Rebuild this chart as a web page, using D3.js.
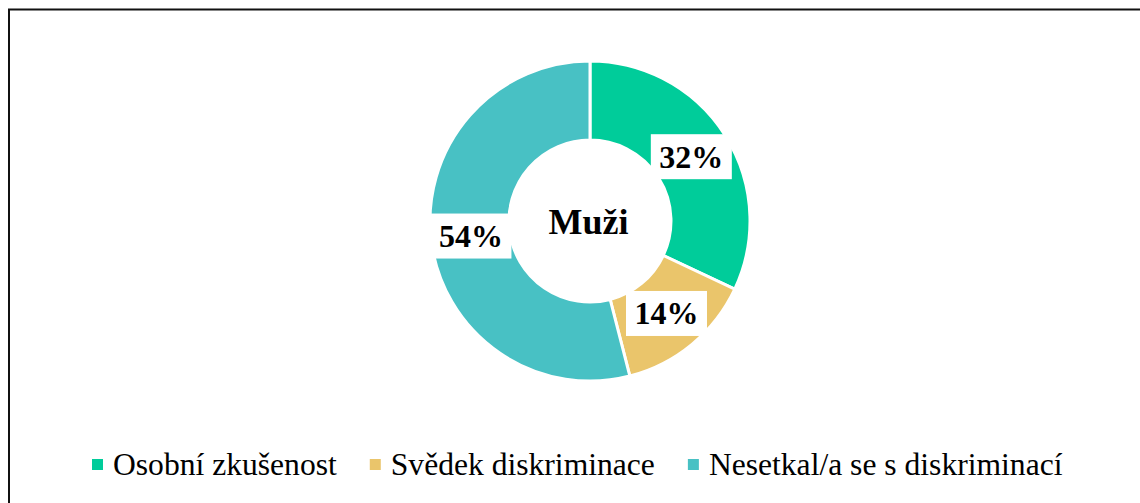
<!DOCTYPE html>
<html lang="cs">
<head>
    <meta charset="utf-8">
    <script src="https://d3js.org/d3.v7.min.js"></script>
    <style>
        body { margin: 0; background: white; }
        svg text { font-family: "Liberation Serif", "Times New Roman", serif; }
    </style>
</head>
<body>
    <div id="chart"></div>
    <script>
        // data
        const categories = ["Osobní zkušenost", "Svědek diskriminace", "Nesetkal/a se s diskriminací"];
        const values = [32, 14, 54];
        const colors = ["#00CC9A", "#EAC56B", "#48C1C4"];
        const centerLabel = "Muži";

        const W = 1140, H = 503;
        const cx = 590, cy = 221, outerR = 160, innerR = 81;

        const svg = d3.select("#chart").append("svg")
            .attr("width", W)
            .attr("height", H);

        // chart frame (runs off the right and bottom edge)
        svg.append("rect")
            .attr("x", 9).attr("y", 9.5)
            .attr("width", 1200).attr("height", 600)
            .attr("fill", "white")
            .attr("stroke", "#111")
            .attr("stroke-width", 2);

        const pie = d3.pie().sort(null).value(d => d);
        const arcs = pie(values);
        const arc = d3.arc().innerRadius(innerR).outerRadius(outerR);
        const labelArc = d3.arc().innerRadius(120).outerRadius(120);

        const g = svg.append("g").attr("transform", `translate(${cx},${cy})`);

        g.selectAll("path")
            .data(arcs)
            .join("path")
            .attr("d", arc)
            .attr("fill", (d, i) => colors[i])
            .attr("stroke", "white")
            .attr("stroke-width", 3);

        // data labels with white boxes
        const lab = g.selectAll("g.lab")
            .data(arcs)
            .join("g")
            .attr("class", "lab")
            .attr("transform", d => `translate(${labelArc.centroid(d)})`);

        lab.append("rect")
            .attr("x", -40.5).attr("y", -22.5)
            .attr("width", 81).attr("height", 45)
            .attr("fill", "white");

        lab.append("text")
            .attr("text-anchor", "middle")
            .attr("y", 11)
            .style("font-size", "32px")
            .style("font-weight", "bold")
            .text(d => d.data + "%");

        g.append("text")
            .attr("text-anchor", "middle")
            .attr("x", -1.5)
            .attr("y", 13)
            .style("font-size", "36px")
            .style("font-weight", "bold")
            .text(centerLabel);

        // legend
        const legend = svg.append("g").attr("transform", "translate(92,475)");
        let lx = 0;
        categories.forEach((c, i) => {
            legend.append("rect")
                .attr("x", lx).attr("y", -16)
                .attr("width", 11).attr("height", 11)
                .attr("fill", colors[i]);
            const t = legend.append("text")
                .attr("x", lx + 21)
                .attr("y", 0)
                .style("font-size", "31.6px")
                .text(c);
            lx += 21 + t.node().getComputedTextLength() + 33;
        });
    </script>
</body>
</html>
